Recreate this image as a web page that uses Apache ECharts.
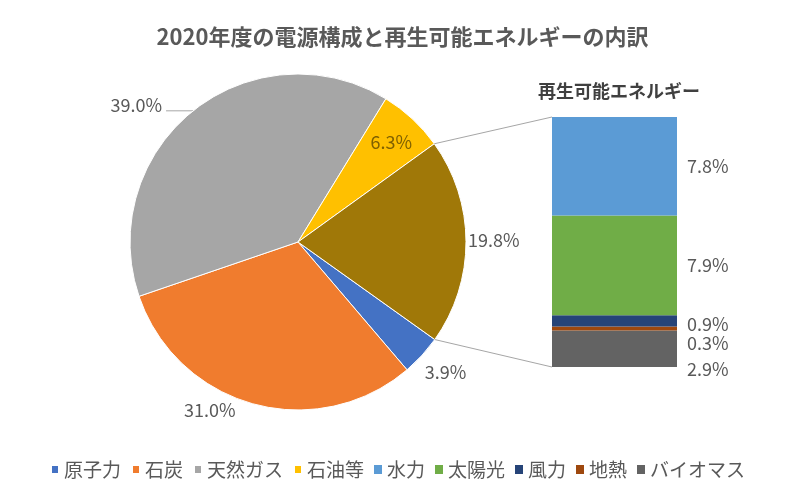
<!DOCTYPE html>
<html><head><meta charset="utf-8">
<script src="https://cdn.jsdelivr.net/npm/echarts@6/dist/echarts.min.js"></script>
<style>html,body{margin:0;background:#fff}#c{width:805px;height:500px}</style>
</head><body><div id="c"></div>
<script>
const pieNames = ['原子力', '石炭', '天然ガス', '石油等', '再生可能エネルギー'];
const pieValues = [3.9, 31.0, 39.0, 6.3, 19.8];
const pieColors = ['#4472C4', '#F07C2E', '#A6A6A6', '#FFC000', '#A07808'];
const renewNames = ['水力', '太陽光', '風力', '地熱', 'バイオマス'];
const renewValues = [7.8, 7.9, 0.9, 0.3, 2.9];
const renewColors = ['#5B9BD5', '#70AD47', '#264478', '#9E480E', '#636363'];
const legendNames = ['原子力', '石炭', '天然ガス', '石油等', '水力', '太陽光', '風力', '地熱', 'バイオマス'];

const FONT = '"Noto Sans CJK JP", "Noto Sans", sans-serif';
const CX = 298, CY = 242, R = 168, START = -35.5;
const GL = 552, GT = 117, GW = 125, GH = 250;

// small label nudges (dx, dy), like Excel's label placement
const pieLabelShift = [[3, 17], [-18, 6], [0, -6], [34, -36], [2, -1]];
const barLabelShift = [0, 0, 3, 15, 20];

const chart = echarts.init(document.getElementById('c'));
const renewTotal = renewValues.reduce((a, b) => a + b, 0);

const barSeries = [];
for (let i = renewNames.length - 1; i >= 0; i--) {
  const shift = barLabelShift[i];
  barSeries.push({
    type: 'bar', name: renewNames[i], stack: 'renew', barWidth: '100%',
    data: [renewValues[i]],
    itemStyle: { color: renewColors[i] },
    label: {
      show: true, position: 'right', distance: 10,
      formatter: p => p.value.toFixed(1) + '%',
      fontFamily: FONT, fontSize: 18, color: '#595959'
    },
    labelLayout: () => ({ dy: shift }),
    emphasis: { disabled: true }
  });
}

const pieData = pieNames.map((n, i) => {
  const d = { name: n, value: pieValues[i], itemStyle: { color: pieColors[i] } };
  if (i === 2) {
    d.labelLine = { show: true, length: 0, length2: 27, lineStyle: { color: '#A6A6A6', width: 1 } };
    d.label = { distanceToLabelLine: 4 };
  }
  if (i === 3) {
    d.label = { position: 'inside', color: '#7F6000' };
  }
  return d;
});

// connector lines from the renewable slice edges to the stacked bar (bar fills the grid)
const total = pieValues.reduce((a, b) => a + b, 0);
const renewShare = pieValues[pieValues.length - 1] / total;
const aTop = (START + 360 * renewShare) * Math.PI / 180;
const aBot = START * Math.PI / 180;
const pTop = [CX + R * Math.cos(aTop), CY - R * Math.sin(aTop)];
const pBot = [CX + R * Math.cos(aBot), CY - R * Math.sin(aBot)];

const option = {
  animation: false,
  backgroundColor: '#fff',
  title: [
    { text: '2020年度の電源構成と再生可能エネルギーの内訳', left: 'center', top: 21,
      textStyle: { fontFamily: FONT, fontSize: 22, fontWeight: 'bold', color: '#595959' } },
    { text: '再生可能エネルギー', left: 533, top: 77,
      textStyle: { fontFamily: FONT, fontSize: 18, fontWeight: 'bold', color: '#404040' } }
  ],
  legend: {
    data: legendNames, left: 45, top: 455, icon: 'rect', itemWidth: 8, itemHeight: 9,
    itemGap: 10, selectedMode: false,
    textStyle: { fontFamily: FONT, fontSize: 19, color: '#595959' }
  },
  grid: { left: GL, top: GT, width: GW, height: GH },
  xAxis: { type: 'category', data: ['再生可能エネルギー'], show: false },
  yAxis: { type: 'value', min: 0, max: renewTotal, show: false },
  graphic: [
    { type: 'line', shape: { x1: pTop[0], y1: pTop[1], x2: GL, y2: GT }, style: { stroke: '#A6A6A6', lineWidth: 1 }, z: 10 },
    { type: 'line', shape: { x1: pBot[0], y1: pBot[1], x2: GL, y2: GT + GH }, style: { stroke: '#A6A6A6', lineWidth: 1 }, z: 10 }
  ],
  series: [
    {
      type: 'pie', center: [CX, CY], radius: R, startAngle: START, clockwise: true,
      data: pieData,
      itemStyle: { borderColor: '#fff', borderWidth: 1 },
      label: {
        show: true, position: 'outside', formatter: p => p.value.toFixed(1) + '%',
        fontFamily: FONT, fontSize: 18, color: '#595959', distanceToLabelLine: 0
      },
      labelLine: { show: false, length: 0, length2: 0 },
      labelLayout: p => {
        const s = pieLabelShift[p.dataIndex];
        return { dx: s[0], dy: s[1] };
      },
      emphasis: { disabled: true }
    }
  ].concat(barSeries)
};
chart.setOption(option);
</script>
</body></html>
